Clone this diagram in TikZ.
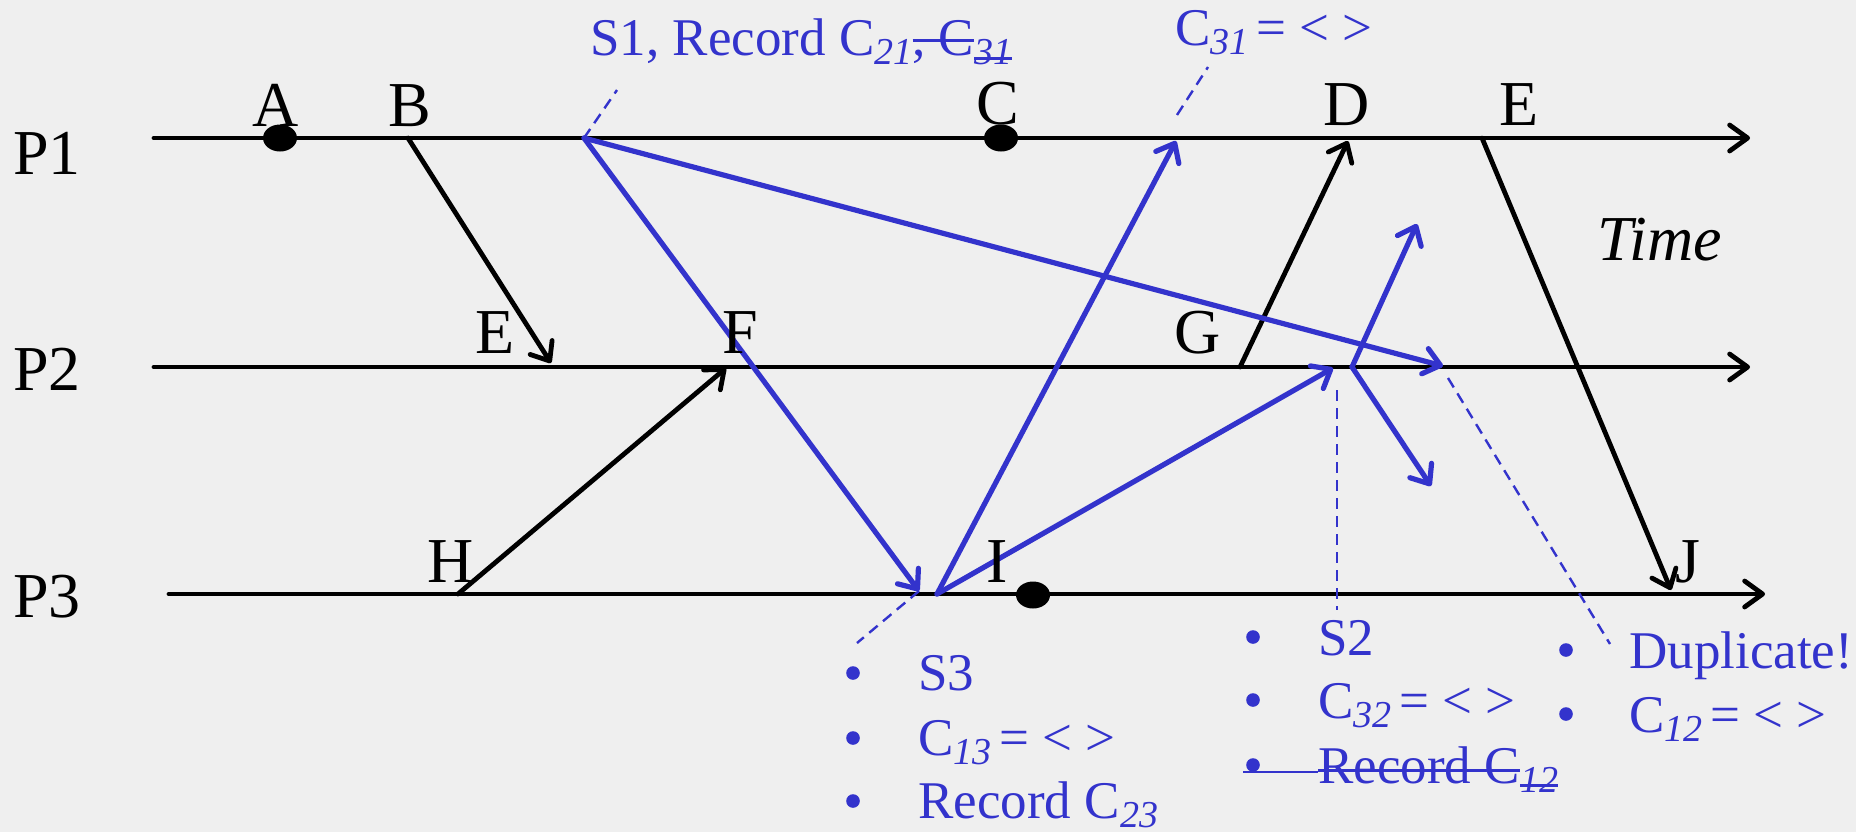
\documentclass[tikz,border=0pt]{standalone}
\usepackage{fontspec}
\setmainfont{Liberation Serif}
\usetikzlibrary{arrows.meta,shapes.geometric}
\definecolor{bg}{RGB}{239,239,239}
\definecolor{pblue}{RGB}{51,51,204}
\newcommand\sbs[1]{\raisebox{-4.5pt}{\fontsize{19}{20}\selectfont\itshape #1}}
\newcommand\strk[2]{\setbox0\hbox{#2}\rlap{\rule[#1]{\wd0}{1.3pt}}\box0}
\newcommand\empt{\kern4pt=\kern6.5pt<\kern6.5pt>}
\begin{document}
\begin{tikzpicture}[x=0.5pt,y=-0.5pt,
  lbl/.style={font=\fontsize{32}{38}\selectfont, inner sep=0pt, anchor=base},
  plbl/.style={font=\fontsize{32}{38}\selectfont, inner sep=0pt, anchor=base west},
  btxt/.style={text=pblue, font=\fontsize{26.5}{32}\selectfont, inner sep=0pt, anchor=base west},
  tline/.style={line width=2.4pt, line cap=round, -{Straight Barb[length=9pt,width=13pt,line cap=round,line join=round]}},
  msg/.style={line width=2.4pt, line cap=round, -{Straight Barb[length=8pt,width=13pt,line cap=round,line join=round]}},
  bmsg/.style={msg, draw=pblue, line width=2.6pt},
  lead/.style={pblue, line width=1.2pt, dash pattern=on 5.5pt off 3.5pt},
  evt/.style={ellipse, fill=black, minimum width=17pt, minimum height=13.5pt, inner sep=0pt},
  bul/.style={circle, fill=pblue, minimum size=6.8pt, inner sep=0pt},
  strike/.style={pblue, line width=1.3pt}]
\fill[bg] (0,0) rectangle (1856,832);
\useasboundingbox (0,0) rectangle (1856,832);

% process labels
\node[plbl] (P1) at (13,174) {P1};
\node[plbl] (P2) at (13,390) {P2};
\node[plbl] (P3) at (13,617) {P3};

% time lines
\coordinate (p1s) at (154,138); \coordinate (p1e) at (1750,138);
\coordinate (p2s) at (154,367); \coordinate (p2e) at (1750,367);
\coordinate (p3s) at (169,594); \coordinate (p3e) at (1765,594);
\draw[tline] (p1s) -- (p1e);
\draw[tline] (p2s) -- (p2e);
\draw[tline] (p3s) -- (p3e);

% event points
\coordinate (b) at (408,138);
\coordinate (e2) at (551,363);
\coordinate (h) at (458,594);
\coordinate (f) at (726,368);
\coordinate (g) at (1240,367);
\coordinate (d) at (1348,141);
\coordinate (e1) at (1482,138);
\coordinate (j) at (1671,590);
\coordinate (s1) at (584,138);
\coordinate (s3) at (937,594);
\coordinate (s3in) at (919,591);
\coordinate (s1p2) at (1443,366);
\coordinate (s3p1) at (1176,141);
\coordinate (s3p2) at (1333,368);
\coordinate (s2) at (1352,367);
\coordinate (s2up) at (1417,224);
\coordinate (s2dn) at (1431,486);

% black messages
\draw[msg] (b) -- (e2);
\draw[msg] (h) -- (f);
\draw[msg] (g) -- (d);
\draw[msg] (e1) -- (j);

% blue markers
\draw[bmsg] (s1) -- (s3in);
\draw[bmsg] (s1) -- (s1p2);
\draw[bmsg] (s3) -- (s3p1);
\draw[bmsg] (s3) -- (s3p2);
\draw[bmsg] (s2) -- (s2up);
\draw[bmsg] (s2) -- (s2dn);

% event dots
\node[evt] (dA) at (280,138) {};
\node[evt] (dC) at (1001,138) {};
\node[evt] (dI) at (1033,595) {};

% event labels
\node[lbl] (lA) at (276,126) {A};
\node[lbl] (lB) at (410,126) {B};
\node[lbl] (lC) at (998,124) {C};
\node[lbl] (lD) at (1347,125) {D};
\node[lbl] (lE1) at (1519,125) {E};
\node[lbl] (lE2) at (495,353) {E};
\node[lbl] (lF) at (740,353) {F};
\node[lbl] (lG) at (1198,353) {G};
\node[lbl] (lH) at (451,582) {H};
\node[lbl] (lI) at (997,582) {I};
\node[lbl] (lJ) at (1688,582) {J};
\node[lbl, font=\fontsize{32}{38}\selectfont\itshape] (time) at (1660,260) {Time};

% annotations
\node[btxt] (s1lbl) at (590,55) {S1, Record C\sbs{21}\strk{6.5pt}{, C}\sbs{\strk{2pt}{31}}};
\node[btxt] (c31lbl) at (1175,45) {C\sbs{31}\empt};

\coordinate (s1lead) at (617,90);
\coordinate (c31a) at (1177,115);
\coordinate (c31b) at (1208,67);
\coordinate (s3lead) at (857,643);
\coordinate (s2a) at (1337,390);
\coordinate (s2b) at (1337,610);
\coordinate (dupa) at (1448,378);
\coordinate (dupb) at (1610,644);
\draw[lead] (s1) -- (s1lead);
\draw[lead] (c31a) -- (c31b);
\draw[lead] (s3in) -- (s3lead);
\draw[lead] (s2a) -- (s2b);
\draw[lead] (dupa) -- (dupb);

% S3 list
\node[bul] (b31) at (853,673) {};
\node[bul] (b32) at (853,738) {};
\node[bul] (b33) at (853,801) {};
\node[btxt] (t31) at (918,690) {S3};
\node[btxt] (t32) at (918,755) {C\sbs{13}\empt};
\node[btxt] (t33) at (918,818) {Record C\sbs{23}};

% S2 list
\node[bul] (b21) at (1253,637) {};
\node[bul] (b22) at (1253,700) {};
\node[bul] (b23) at (1253,765) {};
\node[btxt] (t21) at (1318,655) {S2};
\node[btxt] (t22) at (1318,718) {C\sbs{32}\empt};
\node[btxt] (t23) at (1318,783) {\strk{5.5pt}{Record C}\sbs{\strk{2.5pt}{12}}};
\coordinate (stka) at (1243,772);
\draw[strike] (stka) -- (t23.base west |- stka);

% duplicate list
\node[bul] (b11) at (1566,650) {};
\node[bul] (b12) at (1566,714) {};
\node[btxt] (t11) at (1629,668) {Duplicate!};
\node[btxt] (t12) at (1629,732) {C\sbs{12}\empt};
\end{tikzpicture}
\end{document}
